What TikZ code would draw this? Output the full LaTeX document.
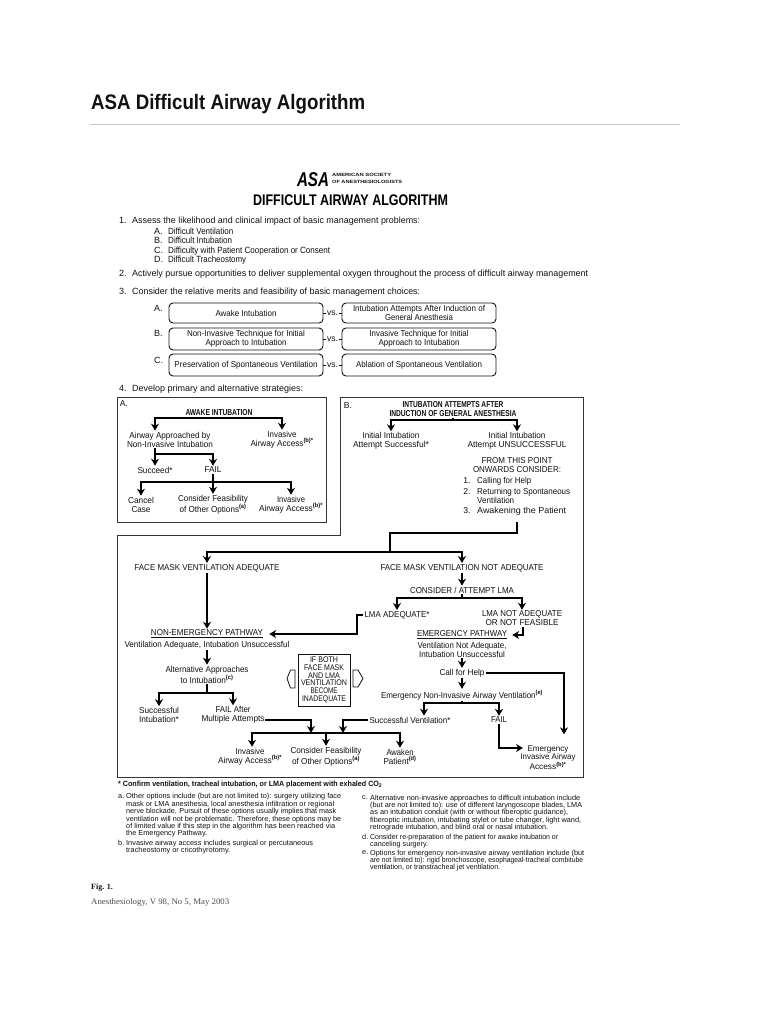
\documentclass[tikz,border=0pt]{standalone}
\usepackage{fontspec}
\usepackage{graphicx}
\setmainfont{Liberation Sans}
\newfontfamily\serfam{Liberation Serif}
\usetikzlibrary{arrows.meta}
\definecolor{ink}{HTML}{111111}
\newcommand\fw[2]{\resizebox{#1pt}{\height}{#2}}
\newcommand\dgf{\fontsize{8.6}{9}\selectfont}
\newcommand\ntf{\fontsize{7.3}{7.4}\selectfont}
\newcommand\sps[1]{\textsuperscript{\textbf{#1}}}
\tikzset{
 tx/.style={inner sep=1pt,align=center,font=\dgf,text=ink},
 tl/.style={inner sep=0pt,anchor=west,align=left,font=\fontsize{9}{10}\selectfont,text=ink,execute at begin node={\vphantom{Ag}}},
 nt/.style={inner sep=0pt,anchor=north west,align=left,font=\ntf,text=ink,execute at begin node={\vphantom{(}}},
 rbox/.style={draw=ink,line width=.9pt,rounded corners=4pt,minimum width=154pt,inner sep=0pt,align=center,font=\dgf,text=ink},
 ln/.style={draw=black,line width=1.5pt},
 arr/.style={ln,-{Stealth[length=7pt,width=8pt]}},
 vsl/.style={draw=ink,line width=.7pt},
 vsn/.style={fill=white,inner sep=.6pt,font=\dgf,text=ink},
 frame/.style={draw=ink!85,line width=1pt},
 hollow/.style={draw=ink,line width=.8pt,fill=white,line join=round},
}
\begin{document}
\begin{tikzpicture}[x=1pt,y=-1pt]
\useasboundingbox (0,0) rectangle (768,1024);
\fill[white] (0,0) rectangle (768,1024);
% page heading
\node[inner sep=0pt,anchor=west,font=\fontsize{21}{24}\selectfont\bfseries,text=ink] (head) at (91,104) {\fw{274}{ASA Difficult Airway Algorithm}};
\draw[black!22,line width=.7pt] (90,124) -- (680,124);
% logo and title
\node[inner sep=0pt,font=\fontsize{20}{20}\selectfont\bfseries\itshape,text=black] (logo) at (313,179.5) {\fw{32}{ASA}};
\node[inner sep=0pt,anchor=west,align=left,font=\fontsize{4.6}{7.2}\selectfont\bfseries,text=ink] (soc) at (332,178.5) {\fw{59}{AMERICAN SOCIETY}\\\fw{70}{OF ANESTHESIOLOGISTS}};
\node[inner sep=0pt,font=\fontsize{15.4}{16}\selectfont\bfseries,text=black] (title) at (350.5,200) {\fw{195}{DIFFICULT AIRWAY ALGORITHM}};
% list
\node[tl] (n1) at (119,221) {1.};
\node[tl] (t1) at (132,221) {\fw{288}{Assess the likelihood and clinical impact of basic management problems:}};
\node[tl] (la) at (154,232) {A.}; \node[tl] (ta) at (168,232) {\fw{65}{Difficult Ventilation}};
\node[tl] (lb) at (154,241) {B.}; \node[tl] (tb) at (168,241) {\fw{64}{Difficult Intubation}};
\node[tl] (lc) at (154,251) {C.}; \node[tl] (tc) at (168,251) {\fw{162}{Difficulty with Patient Cooperation or Consent}};
\node[tl] (ld) at (154,260) {D.}; \node[tl] (td) at (168,260) {\fw{78}{Difficult Tracheostomy}};
\node[tl] (n2) at (119,274) {2.};
\node[tl] (t2) at (132,274) {\fw{456}{Actively pursue opportunities to deliver supplemental oxygen throughout the process of difficult airway management}};
\node[tl] (n3) at (119,292) {3.};
\node[tl] (t3) at (132,292) {\fw{288}{Consider the relative merits and feasibility of basic management choices:}};
% choice boxes
\node[tl] (ca) at (154,309) {A.};
\node[tl] (cb) at (154,334) {B.};
\node[tl] (cc) at (154,361) {C.};
\node[rbox,minimum height=20pt] (ba) at (246,313) {\fw{61}{Awake Intubation}};
\node[rbox,minimum height=20pt] (bb) at (419,313) {\fw{132}{Intubation Attempts After Induction of}\\\fw{68}{General Anesthesia}};
\node[rbox,minimum height=22pt] (bc) at (246,339) {\fw{118}{Non-Invasive Technique for Initial}\\\fw{81}{Approach to Intubation}};
\node[rbox,minimum height=22pt] (bd) at (419,339) {\fw{99}{Invasive Technique for Initial}\\\fw{81}{Approach to Intubation}};
\node[rbox,minimum height=22pt] (be) at (246,365) {\fw{143}{Preservation of Spontaneous Ventilation}};
\node[rbox,minimum height=22pt] (bf) at (419,365) {\fw{126}{Ablation of Spontaneous Ventilation}};
\draw[vsl] (ba) -- node[vsn] (vs1) {vs.} (bb);
\draw[vsl] (bc) -- node[vsn] (vs2) {vs.} (bd);
\draw[vsl] (be) -- node[vsn] (vs3) {vs.} (bf);
\node[tl] (n4) at (119,389) {4.};
\node[tl] (t4) at (132,389) {\fw{171}{Develop primary and alternative strategies:}};
% frames
\draw[frame] (117,397) rectangle (326,522);
\draw[frame] (340,397) -- (583,397) -- (583,777) -- (117,777) -- (117,535.5) -- (340,535.5) -- cycle;
% panel A
\node[tx] (pa) at (124,404) {A.};
\node[tx,font=\dgf\bfseries] (awake) at (219,413) {\fw{67}{AWAKE INTUBATION}};
\node[tx] (a1) at (170,439.5) {\fw{81}{Airway Approached by}\\\fw{86}{Non-Invasive Intubation}};
\node[tx] (a2) at (282,439.5) {\fw{29}{Invasive}\\\fw{63}{Airway Access\sps{(b)*}}};
\node[tx] (succ) at (155,470) {\fw{35}{Succeed*}};
\node[tx] (fail) at (213,470) {\fw{17}{FAIL}};
\node[tx] (cancel) at (141,504.5) {\fw{26}{Cancel}\\\fw{19}{Case}};
\node[tx] (cons) at (213,504.5) {\fw{70}{Consider Feasibility}\\\fw{67}{of Other Options\sps{(a)}}};
\node[tx] (inv) at (291,504.5) {\fw{28}{Invasive}\\\fw{64}{Airway Access\sps{(b)*}}};
\coordinate (ja) at (219,418);
\draw[arr] (ja) -| ([xshift=-15pt]a1.north);
\draw[arr] (ja) -| (a2.north);
\coordinate (jb) at (155,454);
\draw[arr] ([xshift=-15pt]a1.south) -- (succ.north);
\draw[arr] (jb) -| (fail.north);
\draw[arr] (fail.south) -- (cons.north);
\coordinate (jc) at (213,482);
\draw[arr] (jc) -| (cancel.north);
\draw[arr] (jc) -| (inv.north);
% panel B
\node[tx] (pb) at (348,406) {B.};
\node[tx,font=\dgf\bfseries] (bhead) at (453,409) {\fw{101}{INTUBATION ATTEMPTS AFTER}\\\fw{127}{INDUCTION OF GENERAL ANESTHESIA}};
\node[tx] (bok) at (391,441) {\fw{57}{Initial Intubation}\\\fw{76}{Attempt Successful*}};
\node[tx] (bno) at (517,441) {\fw{57}{Initial Intubation}\\\fw{99}{Attempt UNSUCCESSFUL}};
\node[tx] (from) at (517,465.5) {\fw{71}{FROM THIS POINT}\\\fw{88}{ONWARDS CONSIDER:}};
\node[tx] (k1) at (467,481) {\vphantom{Ag}1.};
\node[tx] (k2) at (467,492) {\vphantom{Ag}2.};
\node[tx] (k3) at (467,511) {\vphantom{Ag}3.};
\node[tx,anchor=west,inner sep=0pt] (l1) at (477,481) {\vphantom{Ag}\fw{54}{Calling for Help}};
\node[tx,anchor=west,inner sep=0pt,align=left] (l2) at (477,496) {\fw{93}{Returning to Spontaneous}\\\fw{37}{Ventilation}};
\node[tx,anchor=west,inner sep=0pt] (l3) at (477,511) {\vphantom{Ag}\fw{89}{Awakening the Patient}};
\coordinate (jd) at (453,420);
\draw[ln] (bhead.south) -- (jd);
\draw[arr] (jd) -| (bok.north);
\draw[arr] (jd) -| (bno.north);
% lower panel
\coordinate (jx) at (517,522);
\coordinate (je) at (390,533);
\coordinate (jf) at (390,552);
\node[tx] (fmok) at (207,568) {\fw{145}{FACE MASK VENTILATION ADEQUATE}};
\node[tx] (fmno) at (462,568) {\fw{163}{FACE MASK VENTILATION NOT ADEQUATE}};
\draw[ln] (jx) |- (je) -- (jf);
\draw[arr] (jf) -| (fmok.north);
\draw[arr] (jf) -| (fmno.north);
\node[tx] (nep) at (207,634) {\fw{112}{\underline{NON-EMERGENCY PATHWAY}}};
\node[tx] (nepd) at (207,645) {\fw{165}{Ventilation Adequate, Intubation Unsuccessful}};
\node[tx] (alt) at (207,674.5) {\fw{83}{Alternative Approaches}\\\fw{53}{to Intubation\sps{(c)}}};
\node[tx] (su) at (159,715) {\fw{40}{Successful}\\\fw{40}{Intubation*}};
\node[tx] (fm) at (233,715) {\fw{35}{FAIL After}\\\fw{63}{Multiple Attempts}};
\draw[arr] (fmok.south) -- (nep.north);
\draw[arr] (nepd.south) -- (alt.north);
\coordinate (jg) at (207,693);
\draw[ln] (alt.south) -- (jg);
\draw[arr] (jg) -| (su.north);
\draw[arr] (jg) -| (fm.north);
\node[tx] (iv2) at (250,756.5) {\fw{29}{Invasive}\\\fw{64}{Airway Access\sps{(b)*}}};
\node[tx] (cn2) at (326,756.5) {\fw{71}{Consider Feasibility}\\\fw{68}{of Other Options\sps{(a)}}};
\node[tx] (awk) at (400,756.5) {\fw{27}{Awaken}\\\fw{33}{Patient\sps{(d)}}};
\coordinate (jh) at (311,733);
\coordinate (ji) at (343,733);
\coordinate (fa) at (265,720);
\draw[arr] (fa) -| (jh);
\node[tx] (sv) at (410,720) {\fw{81}{Successful Ventilation*}};
\draw[arr] (sv.west) -| (ji);
\draw[arr] (jh) -| ([xshift=2pt]iv2.north);
\draw[arr] (jh) -| (cn2.north);
\draw[arr] (jh) -| (awk.north);
% central box
\node[draw=ink,line width=.9pt,minimum width=52pt,minimum height=52pt,inner sep=0pt,align=center,font=\fontsize{8.2}{7.7}\selectfont,text=ink] (both) at (324,680) {\fw{28}{IF BOTH}\\\fw{40}{FACE MASK}\\\fw{32}{AND LMA}\\\fw{46}{VENTILATION}\\\fw{27}{BECOME}\\\fw{44}{INADEQUATE}};
\draw[hollow] (295,670) -- (290.5,670) -- (287,678.5) -- (290.5,688) -- (295,688) -- cycle;
\draw[hollow] (353,670) -- (358,670) -- (363,678.5) -- (358,687) -- (353,687) -- cycle;
% right branch
\node[tx] (lma) at (462,590) {\fw{104}{CONSIDER / ATTEMPT LMA}};
\node[tx] (lad) at (397,615) {\fw{65}{LMA ADEQUATE*}};
\node[tx] (lno) at (522,618.5) {\fw{80}{LMA NOT ADEQUATE}\\\fw{73}{OR NOT FEASIBLE}};
\node[tx] (ep) at (462,635) {\fw{90}{\underline{EMERGENCY PATHWAY}}};
\node[tx] (epd) at (462,649.5) {\fw{89}{Ventilation Not Adequate,}\\\fw{86}{Intubation Unsuccessful}};
\node[tx] (help) at (462,673) {\fw{45}{Call for Help}};
\node[tx] (eni) at (462,695) {\fw{162}{Emergency Non-Invasive Airway Ventilation\sps{(e)}}};
\node[tx] (f2) at (499,720) {\fw{16}{FAIL}};
\node[tx,font=\fontsize{8.2}{8.5}\selectfont] (ei) at (548,757.5) {\fw{41}{Emergency}\\\fw{55}{Invasive Airway}\\\fw{37}{Access\sps{(b)*}}};
\draw[arr] (fmno.south) -- (lma.north);
\coordinate (jl) at (462,598);
\draw[ln] (lma.south) -- (jl);
\draw[arr] (jl) -| (lad.north);
\draw[arr] (jl) -| (lno.north);
\coordinate (jm) at (357,634);
\coordinate (jn) at ([xshift=5pt]nep.east);
\draw[arr] (lad.west) -| (jm) -- (jm -| jn);
\coordinate (jo) at (523,635);
\coordinate (jp) at ([xshift=4pt]ep.east);
\draw[arr] (lno.south -| jo) -- (jo) -- (jo -| jp);
\draw[arr] (epd.south) -- (help.north);
\draw[arr] (help.south) -- (eni.north);
\draw[arr] (help.east) -| ([xshift=16pt,yshift=10pt]ei.north);
\coordinate (jr) at (462,703);
\draw[ln] (eni.south) -- (jr);
\draw[arr] (jr) -| ([xshift=14pt]sv.north);
\draw[arr] (jr) -| (f2.north);
\coordinate (js) at (523,748);
\draw[arr] (f2.south) |- (js);
% footnotes
\node[inner sep=0pt,anchor=west,font=\fontsize{7.6}{8}\selectfont\bfseries,text=ink] (conf) at (118,785) {\fw{264}{* Confirm ventilation, tracheal intubation, or LMA placement with exhaled CO\textsubscript{2}}};
\node[nt] (ma) at (118,793.5) {a.};
\node[nt] (fa1) at (126,793.5) {\fw{215}{Other options include (but are not limited to): surgery utilizing face}\\\fw{208}{mask or LMA anesthesia, local anesthesia infiltration or regional}\\\fw{210}{nerve blockade. Pursuit of these options usually implies that mask}\\\fw{215}{ventilation will not be problematic. Therefore, these options may be}\\\fw{209}{of limited value if this step in the algorithm has been reached via}\\\fw{81}{the Emergency Pathway.}};
\node[nt] (mb) at (118,839.5) {b.};
\node[nt] (fb1) at (126,839.5) {\fw{187}{Invasive airway access includes surgical or percutaneous}\\\fw{104}{tracheostomy or cricothyrotomy.}};
\node[nt] (mc) at (362,794.5) {c.};
\node[nt] (fc1) at (370,794.5) {\fw{210}{Alternative non-invasive approaches to difficult intubation include}\\\fw{212}{(but are not limited to): use of different laryngoscope blades, LMA}\\\fw{198}{as an intubation conduit (with or without fiberoptic guidance),}\\\fw{211}{fiberoptic intubation, intubating stylet or tube changer, light wand,}\\\fw{178}{retrograde intubation, and blind oral or nasal intubation.}};
\node[nt] (md) at (362,833.5) {d.};
\node[nt] (fd1) at (370,833.5) {\fw{188}{Consider re-preparation of the patient for awake intubation or}\\\fw{58}{canceling surgery.}};
\node[nt] (me) at (362,849.5) {e.};
\node[nt] (fe1) at (370,849.5) {\fw{214}{Options for emergency non-invasive airway ventilation include (but}\\\fw{213}{are not limited to): rigid bronchoscope, esophageal-tracheal combitube}\\\fw{130}{ventilation, or transtracheal jet ventilation.}};
% caption
\node[inner sep=0pt,anchor=west,font=\fontsize{8}{9}\selectfont\serfam\bfseries,text=ink] (fig) at (91,888) {Fig. 1.};
\node[inner sep=0pt,anchor=west,font=\fontsize{8.5}{9}\selectfont\serfam,text=black!70] (cite) at (91,902) {\fw{138}{Anesthesiology, V 98, No 5, May 2003}};
\end{tikzpicture}
\end{document}
